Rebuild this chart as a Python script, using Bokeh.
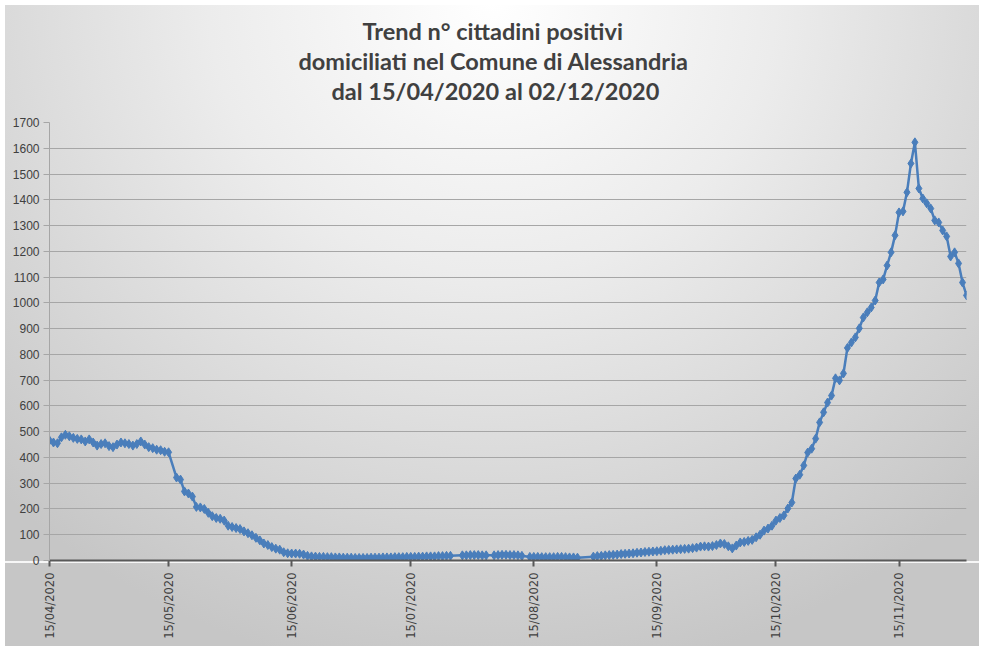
import math
import pandas as pd
from bokeh.plotting import figure
from bokeh.models import Range1d, FixedTicker, DatetimeTickFormatter, ColumnDataSource, Title
from bokeh.embed import file_html
from bokeh.resources import INLINE

# ---- data (daily series from 15/04/2020; None = day without a point) ----
start_date = "2020-04-15"
end_date = "2020-12-02"

positivi = [
    # 15/04 - 15/05
    466, 458, 455, 478, 488, 482, 476, 472, 470, 462,
    470, 458, 446, 452, 455, 444, 440, 450, 458, 455,
    452, 446, 452, 462, 450, 440, 436, 430, 428, 422,
    420,
    None,
    # 17/05 - 20/06
    322, 314, 268, 260, 248, 208, 206, 200, 185, 172,
    165, 162, 155, 135, 130, 126, 122, 113, 106, 98,
    88, 78, 66, 60, 52, 46, 42, 32, 28, 27,
    27, 26, 23, 18, 16,
    # 21/06 - 30/06
    15, 14, 14, 13, 13, 12, 12, 11, 11, 11,
    # 01/07 - 15/07
    10, 10, 10, 10, 11, 11, 11, 12, 12, 12, 13, 13, 13, 14, 14,
    # 16/07 - 25/07
    14, 15, 15, 16, 16, 16, 17, 17, 18, 18,
    None, None,
    20, 20, 21, 21, 21, 20, 20,
    None,
    20, 21, 22, 22, 21, 21, 20, 18,
    None,
    14, 14, 14, 13, 13, 13, 13, 14, 14, 13, 12, 12, 11,
    None, None, None,
    15, 17, 18, 20, 21, 22, 23, 25, 26, 27, 28, 30, 31, 33, 34, 35,
    36, 38, 40, 41, 42, 43, 44, 45,
    46, 48, 50, 54, 55, 54, 56, 60, 66, 64, 55, 47, 58, 70, 72, 76,
    80, 90, 100, 116, 124, 135, 155, 165, 175,
    202, 225, 318, 333, 369, 419, 434, 473, 536, 575, 613, 640, 707,
    699, 726, 825, 846, 866, 901, 943, 963, 982,
    1009, 1079, 1091, 1145, 1196, 1262, 1351, 1355, 1429, 1541, 1623,
    1444, 1405, 1386, 1366, 1320, 1312, 1281, 1258, 1180, 1196, 1153,
    1079, 1029,
]

title_lines = [
    "Trend n° cittadini positivi",
    "domiciliati nel Comune di Alessandria",
    "dal 15/04/2020 al 02/12/2020",
]
x_tick_dates = ["2020-04-15", "2020-05-15", "2020-06-15", "2020-07-15",
                "2020-08-15", "2020-09-15", "2020-10-15", "2020-11-15"]
y_ticks = [0, 100, 200, 300, 400, 500, 600, 700, 800, 900, 1000,
           1100, 1200, 1300, 1400, 1500, 1600, 1700]

# ---- build source ----
dates = pd.date_range(start_date, periods=len(positivi), freq="D")
df = pd.DataFrame({"date": dates, "v": positivi}).dropna()
source = ColumnDataSource(df)

BLUE = "#4a7ebb"
TEXT = "#404040"

p = figure(
    width=984, height=651,
    x_axis_type="datetime",
    output_backend="svg",
    toolbar_location=None,
    x_range=Range1d(pd.Timestamp(start_date), pd.Timestamp(end_date)),
    y_range=Range1d(0, 1700),
    min_border_left=49, min_border_right=18,
    min_border_top=122, min_border_bottom=91,
)

p.background_fill_color = None
p.border_fill_color = None
p.outline_line_color = None
p.styles = {
    "background": (
        "linear-gradient(to bottom, rgba(255,255,255,0) 561px, rgba(255,255,255,0.85) 561px, "
        "rgba(255,255,255,0.85) 563px, rgba(255,255,255,0) 563px), "
        "radial-gradient(ellipse 72% 105% at 50% 0%, #ffffff 0%, #ececec 40%, #d6d6d6 75%, #c6c6c6 100%)"
    ),
    "box-shadow": "inset 0 0 0 5px #ffffff",
}

# title: three lines centred on the canvas (left-aligned with offsets from frame left)
def style_title(t, standoff, offset):
    t.align = "left"
    t.text_font = "Lato"
    t.text_font_size = "23.5px"
    t.text_font_style = "bold"
    t.text_color = TEXT
    t.standoff = standoff
    t.offset = offset

p.title.text = title_lines[0]
style_title(p.title, 0, 313)
# small empty spacer directly above the frame
spacer = Title(text=" ", text_font_size="1px", standoff=15)
p.add_layout(spacer, "above")
t3 = Title(text=title_lines[2])
style_title(t3, 0, 282)
p.add_layout(t3, "above")
t2 = Title(text=title_lines[1])
style_title(t2, 0, 249)
p.add_layout(t2, "above")

# grid
p.xgrid.visible = False
p.ygrid.grid_line_color = "#a6a6a6"
p.ygrid.grid_line_width = 1

# y axis
p.yaxis.ticker = FixedTicker(ticks=y_ticks)
p.yaxis.axis_line_color = "#a6a6a6"
p.yaxis.major_tick_line_color = "#a6a6a6"
p.yaxis.major_tick_out = 6
p.yaxis.major_tick_in = 0
p.yaxis.minor_tick_line_color = None
p.yaxis.major_label_text_font = "Liberation Sans"
p.yaxis.major_label_text_font_size = "12px"
p.yaxis.major_label_text_color = TEXT
p.yaxis.major_label_standoff = 4

# x axis
p.xaxis.ticker = FixedTicker(ticks=[pd.Timestamp(d).value / 1e6 for d in x_tick_dates])
fmt = "%d/%m/%Y"
p.xaxis.formatter = DatetimeTickFormatter(
    microseconds=fmt, milliseconds=fmt, seconds=fmt, minsec=fmt, minutes=fmt,
    hourmin=fmt, hours=fmt, days=fmt, months=fmt, years=fmt,
)
p.xaxis.major_label_orientation = math.pi / 2
p.xaxis.axis_line_color = "#595959"
p.xaxis.axis_line_width = 2
p.xaxis.major_tick_line_color = "#595959"
p.xaxis.major_tick_line_width = 2
p.xaxis.major_tick_out = 6
p.xaxis.major_tick_in = 0
p.xaxis.minor_tick_line_color = None
p.xaxis.major_label_text_font = "DejaVu Sans"
p.xaxis.major_label_text_font_size = "11.5px"
p.xaxis.major_label_text_color = TEXT
p.xaxis.major_label_standoff = 6

# series
p.line(x="date", y="v", source=source, line_color=BLUE, line_width=2.5)
p.scatter(x="date", y="v", source=source, marker="diamond", size=9,
          fill_color=BLUE, line_color=BLUE)

open("out.html", "w").write(file_html(p, INLINE))
